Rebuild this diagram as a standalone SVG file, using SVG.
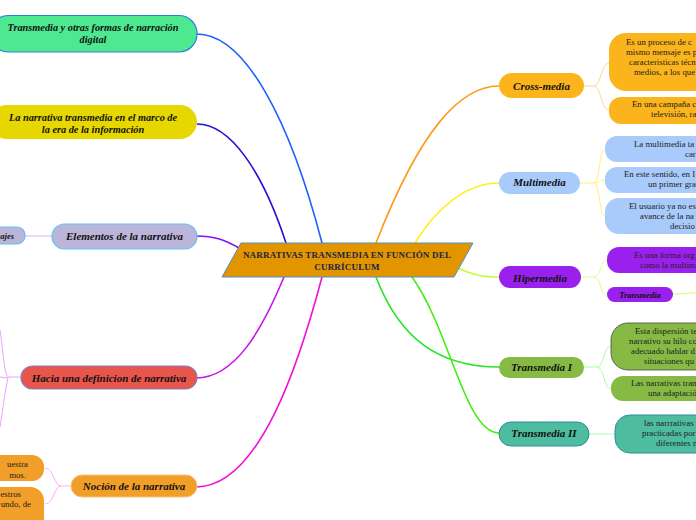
<svg xmlns="http://www.w3.org/2000/svg" width="696" height="520" viewBox="0 0 696 520">
<style>
.lbl{font-family:"Liberation Serif",serif;font-weight:bold;font-style:italic;font-size:11px;fill:#111;text-anchor:middle}
.lbl2{font-family:"Liberation Serif",serif;font-weight:bold;font-style:italic;font-size:10.3px;fill:#111;text-anchor:middle}
.sub{font-family:"Liberation Serif",serif;font-size:8.8px;fill:#222}
.ctr{font-family:"Liberation Serif",serif;font-weight:bold;font-size:9px;fill:#1b2540;text-anchor:middle;letter-spacing:0.2px}
.c{fill:none;stroke-width:1.6}
.s{fill:none;stroke-width:1}
</style>
<rect width="696" height="520" fill="#fff"/>
<g id="connectors">
<path class="c" stroke="#1f5eff" d="M197,34 C245,34 290,120 322,243"/>
<path class="c" stroke="#2410d8" d="M197,124 C230,124 262,170 286,243"/>
<path class="c" stroke="#8a10f0" d="M196,236 C215,236 225,240 239,248"/>
<path class="c" stroke="#c814ee" d="M196,378 C235,378 262,330 284,277"/>
<path class="c" stroke="#f010d8" d="M196,487 C260,487 300,360 322,277"/>
<path class="c" stroke="#ff9a1a" d="M499,86 C460,86 420,130 376,243"/>
<path class="c" stroke="#fff01a" d="M499,183 C465,183 435,210 415,243"/>
<path class="c" stroke="#c0ff30" d="M458,268 C475,276 485,277 499,277"/>
<path class="c" stroke="#22e622" d="M376,277 C400,340 440,367 499,367"/>
<path class="c" stroke="#44ee10" d="M412,277 C450,330 465,433 499,433"/>
<path class="s" stroke="#d8b0ff" d="M25,236 H52"/>
<path class="s" stroke="#f0a0ff" d="M21,377 H8 M8,378 C4,372 3,350 0,330 M8,378 C5,390 2,415 0,427 M8,378 L0,377"/>
<path class="s" stroke="#ffaaff" d="M71,486 H61 C54,486 54,468 45,468 M61,486 C54,486 54,504 45,504"/>
<path class="s" stroke="#ffd494" d="M584,86 H594 C601,86 601,63 609,63 M594,86 C601,86 601,110 609,110"/>
<path class="s" stroke="#fff07a" d="M580,183 H594 C600,183 599,149 605,149 M594,183 C600,183 599,180 605,180 M594,183 C600,183 599,216 605,216"/>
<path class="s" stroke="#ddff88" d="M581,277 H594 C601,277 600,260 607,260 M594,277 C601,277 600,295 607,295"/>
<path class="s" stroke="#ccff66" d="M673,294 C683,294 688,293 696,293"/>
<path class="s" stroke="#aaff99" d="M584,367 H597 C604,367 604,346 611,346 M597,367 C604,367 604,389 611,389"/>
<path class="s" stroke="#aaffaa" d="M589,434 H615"/>
</g>
<g id="center">
<polygon points="241,243 473,243 454,277 222,277" fill="#e39500" stroke="#4a90c8" stroke-width="1"/>
<text class="ctr" x="347" y="258">NARRATIVAS  TRANSMEDIA  EN FUNCIÓN DEL</text>
<text class="ctr" x="347" y="269.5">CURRÍCULUM</text>
</g>
<g id="n-transmedia-otras">
<rect x="-10" y="15.5" width="207" height="36.5" rx="18" fill="#4de890" stroke="#2e7de4" stroke-width="1.2"/>
<text class="lbl2" x="93" y="31">Transmedia y otras formas de narración</text>
<text class="lbl2" x="93" y="43">digital</text>
</g>
<g id="n-narrativa-marco">
<rect x="-10" y="105" width="207" height="34" rx="17" fill="#e6d700"/>
<text class="lbl2" x="93" y="121">La narrativa transmedia en el marco de</text>
<text class="lbl2" x="93" y="133">la era de la información</text>
</g>
<g id="n-elementos">
<rect x="52" y="224" width="145" height="25" rx="12.5" fill="#bbb5da" stroke="#62c3ee" stroke-width="1.2"/>
<text class="lbl" x="124.5" y="240">Elementos de la narrativa</text>
</g>
<g id="n-personajes">
<rect x="-20" y="227" width="45" height="17" rx="8" fill="#bbb5da" stroke="#62c3ee" stroke-width="1.2"/>
<text class="lbl" x="14" y="239" style="text-anchor:end;font-size:8.5px">ajes</text>
</g>
<g id="n-hacia">
<rect x="21" y="366" width="176" height="23" rx="11.5" fill="#e8554a" stroke="#8080c8" stroke-width="1.2"/>
<text class="lbl" x="109" y="382">Hacia una definicion de narrativa</text>
</g>
<g id="n-nocion">
<rect x="71" y="475" width="126" height="22" rx="11" fill="#f19f28" stroke="#f7c37e" stroke-width="1"/>
<text class="lbl" x="134" y="490">Noción de la narrativa</text>
</g>
<g id="n-nocion-1">
<rect x="-20" y="455" width="64" height="26" rx="12" fill="#f19f28"/>
<text class="sub" x="28" y="467" text-anchor="end">uestra</text>
<text class="sub" x="26" y="478" text-anchor="end">mos.</text>
</g>
<g id="n-nocion-2">
<rect x="-20" y="487" width="64" height="45" rx="14" fill="#f19f28"/>
<text class="sub" x="21" y="497" text-anchor="end">estros</text>
<text class="sub" x="31" y="507" text-anchor="end">undo, de</text>
</g>
<g id="n-cross">
<rect x="499" y="73" width="85" height="25" rx="12.5" fill="#fbb41c"/>
<text class="lbl" x="541.5" y="90">Cross-media</text>
</g>
<g id="n-cross-1">
<rect x="609" y="33" width="110" height="58" rx="17" fill="#fbb41c"/>
<text class="sub" x="626" y="45">Es un proceso de c</text>
<text class="sub" x="626" y="55.3">mismo mensaje es p</text>
<text class="sub" x="629" y="65.3">caracteristicas técn</text>
<text class="sub" x="634" y="75.3">medios, a los que</text>
</g>
<g id="n-cross-2">
<rect x="609" y="97" width="110" height="27" rx="12" fill="#fbb41c"/>
<text class="sub" x="632" y="107.3">En una campaña c</text>
<text class="sub" x="651" y="117.3">televisión, ra</text>
</g>
<g id="n-multimedia">
<rect x="499" y="172" width="81" height="22" rx="11" fill="#a9cbfb"/>
<text class="lbl" x="539.5" y="186">Multimedia</text>
</g>
<g id="n-multi-1">
<rect x="605" y="136" width="110" height="26" rx="12" fill="#a9cbfb"/>
<text class="sub" x="634" y="147.3">La multimedia ta</text>
<text class="sub" x="685" y="157.3">car</text>
</g>
<g id="n-multi-2">
<rect x="605" y="167" width="110" height="26" rx="12" fill="#a9cbfb"/>
<text class="sub" x="624" y="177.3">En este sentido, en I</text>
<text class="sub" x="648" y="187.3">un primer gra</text>
</g>
<g id="n-multi-3">
<rect x="605" y="198" width="110" height="36" rx="14" fill="#a9cbfb"/>
<text class="sub" x="629" y="208.7">El usuario ya no es</text>
<text class="sub" x="640" y="218.7">avance de la na</text>
<text class="sub" x="670" y="228.7">decisio</text>
</g>
<g id="n-hipermedia">
<rect x="499" y="266" width="82" height="22" rx="11" fill="#9a20ee"/>
<text class="lbl" x="540" y="282">Hipermedia</text>
</g>
<g id="n-hiper-1">
<rect x="607" y="247" width="110" height="26" rx="12" fill="#9a20ee"/>
<text class="sub" x="634" y="257.7">Es una forma org</text>
<text class="sub" x="640" y="267.7">como la multim</text>
</g>
<g id="n-hiper-2">
<rect x="607" y="287" width="66" height="15" rx="7.5" fill="#9a20ee"/>
<text class="lbl" x="640" y="297.5" style="font-size:8.5px">Transmedia</text>
</g>
<g id="n-transmedia1">
<rect x="499" y="357" width="85" height="21" rx="10.5" fill="#86ba45"/>
<text class="lbl" x="541.5" y="371">Transmedia I</text>
</g>
<g id="n-t1-1">
<rect x="611" y="323" width="110" height="47" rx="17" fill="#86ba45" stroke="#4a4a4a" stroke-width="0.8"/>
<text class="sub" x="635" y="333.7">Esta dispersión te</text>
<text class="sub" x="629" y="343.7">narrativo su hilo co</text>
<text class="sub" x="631" y="353.7">adecuado hablar d</text>
<text class="sub" x="644" y="363.7">situaciones qu</text>
</g>
<g id="n-t1-2">
<rect x="611" y="376" width="110" height="25" rx="12" fill="#86ba45"/>
<text class="sub" x="631" y="385.7">Las narrativas tran</text>
<text class="sub" x="648" y="395.7">una adaptació</text>
</g>
<g id="n-transmedia2">
<rect x="499" y="422" width="90" height="24" rx="12" fill="#4dbc9f" stroke="#2b8e9c" stroke-width="1"/>
<text class="lbl" x="544" y="437">Transmedia II</text>
</g>
<g id="n-t2-1">
<rect x="615" y="415" width="110" height="38" rx="15" fill="#4dbc9f" stroke="#2b8e9c" stroke-width="1"/>
<text class="sub" x="644" y="425.7">las narrrativas</text>
<text class="sub" x="642" y="435.7">practicadas por</text>
<text class="sub" x="656" y="445.7">diferentes n</text>
</g>
</svg>
